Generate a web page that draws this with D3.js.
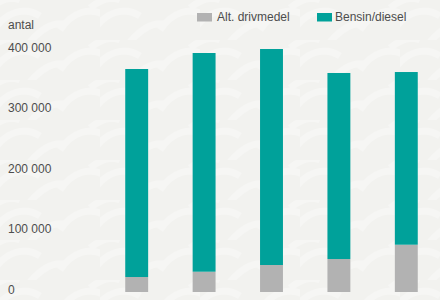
<!DOCTYPE html>
<html lang="sv">
<head>
    <meta charset="UTF-8">
    <title>Antal bilar</title>
    <script src="https://d3js.org/d3.v7.min.js"></script>
    <style>
        body { margin: 0; background: #f2f2ef; }
        svg text {
            font-family: "Liberation Sans", Arial, sans-serif;
            font-size: 12px;
            fill: #4d4d4d;
        }
    </style>
</head>
<body>
    <script>
        // Data (no x labels are shown)
        var categories = ["1", "2", "3", "4", "5"];
        var altDrivmedel = [24800, 33600, 44700, 54600, 78300];
        var bensinDiesel = [344400, 362100, 357600, 308000, 285900];
        var yTicks = [0, 100000, 200000, 300000, 400000];
        var seriesNames = ["Alt. drivmedel", "Bensin/diesel"];
        var seriesColors = ["#b2b2b2", "#00a19a"];

        var width = 440, height = 300;

        var svg = d3.select("body").append("svg")
            .attr("width", width)
            .attr("height", height);

        // subtle wave background
        var defs = svg.append("defs");
        var pat = defs.append("pattern")
            .attr("id", "waves")
            .attr("patternUnits", "userSpaceOnUse")
            .attr("width", 100)
            .attr("height", 40);
        pat.append("rect").attr("width", 100).attr("height", 40).attr("fill", "#f2f2ef");
        pat.append("path")
            .attr("d", "M-6,30 C6,12 24,6 40,16 M60,30 C72,12 90,6 106,16 M30,42 C40,30 52,22 64,24 M-10,8 C0,0 10,-4 20,0 M90,8 C100,0 110,-4 120,0")
            .attr("fill", "none")
            .attr("stroke", "#f6f6f4")
            .attr("stroke-width", 7);
        svg.append("rect")
            .attr("width", width).attr("height", height)
            .attr("fill", "url(#waves)");

        var x = d3.scaleBand()
            .domain(categories)
            .range([103, 440])
            .paddingInner(0.66)
            .paddingOuter(0.33);

        var y = d3.scaleLinear()
            .domain([0, 400000])
            .range([292, 50.4]);

        var fmt = d3.formatLocale({decimal: ",", thousands: " ", grouping: [3], currency: ["", " kr"]}).format(",d");

        // y tick labels
        svg.selectAll(".ytick")
            .data(yTicks)
            .enter().append("text")
            .attr("class", "ytick")
            .attr("x", 8)
            .attr("y", function(d) { return y(d) - 1.5; })
            .attr("dominant-baseline", "middle")
            .text(function(d) { return fmt(d); });

        svg.append("text")
            .attr("x", 8)
            .attr("y", 26)
            .attr("dominant-baseline", "middle")
            .text("antal");

        // stacked bars
        var rows = categories.map(function(c, i) {
            return {cat: c, alt: altDrivmedel[i], bensin: bensinDiesel[i]};
        });
        var stack = d3.stack().keys(["alt", "bensin"])(rows);

        svg.selectAll(".series")
            .data(stack)
            .enter().append("g")
            .attr("fill", function(d, i) { return seriesColors[i]; })
            .selectAll("rect")
            .data(function(d) { return d; })
            .enter().append("rect")
            .attr("x", function(d) { return x(d.data.cat); })
            .attr("width", x.bandwidth())
            .attr("y", function(d) { return y(d[1]); })
            .attr("height", function(d) { return y(d[0]) - y(d[1]); });

        // legend
        var legendX = [197, 317];
        var legend = svg.selectAll(".legend")
            .data(seriesNames)
            .enter().append("g")
            .attr("transform", function(d, i) { return "translate(" + legendX[i] + ",13)"; });
        legend.append("rect")
            .attr("width", 15)
            .attr("height", 8.5)
            .attr("fill", function(d, i) { return seriesColors[i]; });
        legend.append("text")
            .attr("x", function(d, i) { return i === 0 ? 20 : 18; })
            .attr("y", 4.5)
            .attr("dominant-baseline", "middle")
            .text(function(d) { return d; });
    </script>
</body>
</html>
